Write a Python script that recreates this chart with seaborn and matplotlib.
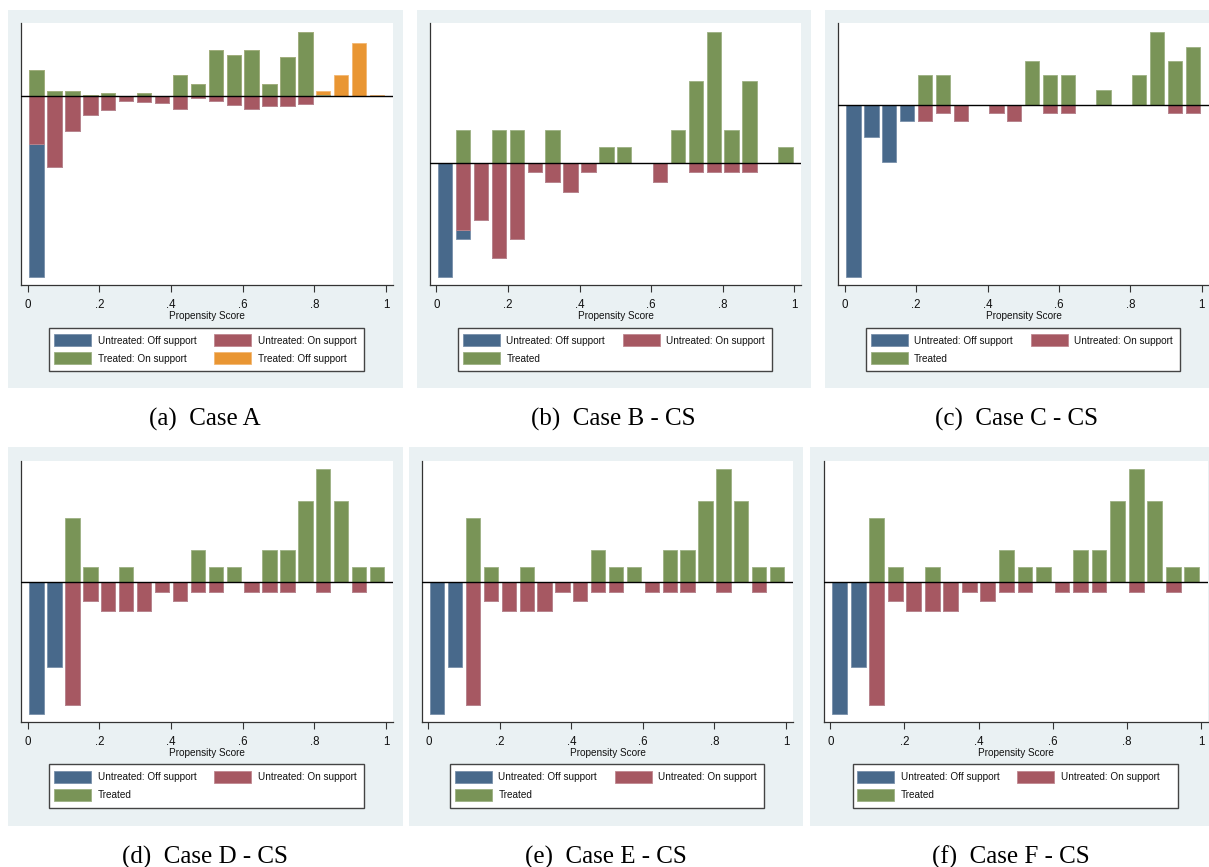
import matplotlib
matplotlib.use("Agg")
import matplotlib.pyplot as plt
from matplotlib.patches import Rectangle
import seaborn as sns

# ---------------------------------------------------------------- data
# Propensity-score bins (bin centres, width 0.05)
bin_centers = [0.025, 0.075, 0.125, 0.175, 0.225, 0.275, 0.325, 0.375, 0.425, 0.475,
               0.525, 0.575, 0.625, 0.675, 0.725, 0.775, 0.825, 0.875, 0.925, 0.975]
tick_values = [0, 0.2, 0.4, 0.6, 0.8, 1.0]
tick_labels = ["0", ".2", ".4", ".6", ".8", "1"]

# Case A
a_untreated_off = [39.8, 0, 0, 0, 0, 0, 0, 0, 0, 0, 0, 0, 0, 0, 0, 0, 0, 0, 0, 0]
a_untreated_on = [14.3, 21.3, 10.4, 5.7, 4.1, 1.5, 1.8, 2.0, 3.7, 0.6,
                  1.5, 2.5, 3.9, 3.0, 3.0, 2.2, 0, 0, 0, 0]
a_treated_on = [7.9, 1.7, 1.7, 0.5, 1.0, 0, 1.0, 0, 6.4, 3.8,
                14.0, 12.4, 14.0, 3.8, 11.9, 19.4, 0.5, 0, 0, 0]
a_treated_off = [0, 0, 0, 0, 0, 0, 0, 0, 0, 0, 0, 0, 0, 0, 0, 0, 1.2, 6.4, 16.1, 0.5]

# Case B - CS
b_untreated_off = [34.0, 2.7, 0, 0, 0, 0, 0, 0, 0, 0, 0, 0, 0, 0, 0, 0, 0, 0, 0, 0]
b_untreated_on = [0, 19.9, 17.0, 28.5, 22.6, 2.6, 5.7, 8.5, 2.6, 0,
                  0, 0, 5.7, 0, 2.6, 2.6, 2.6, 2.6, 0, 0]
b_treated = [0, 10.0, 0, 10.0, 10.0, 0, 10.0, 0, 0, 5.0,
             5.0, 0, 0, 10.0, 24.6, 39.5, 10.0, 24.6, 0, 5.0]

# Case C - CS
c_untreated_off = [51.5, 9.6, 17.1, 4.7, 0, 0, 0, 0, 0, 0, 0, 0, 0, 0, 0, 0, 0, 0, 0, 0]
c_untreated_on = [0, 0, 0, 0, 4.7, 2.4, 4.7, 0, 2.4, 4.7,
                  0, 2.4, 2.4, 0, 0, 0, 0, 0, 2.4, 2.4]
c_treated = [0, 0, 0, 0, 9.0, 9.0, 0, 0, 0, 0,
             13.1, 9.0, 9.0, 0, 4.5, 0, 9.0, 22.0, 13.1, 17.5]

# Case D - CS
d_untreated_off = [39.4, 25.3, 0, 0, 0, 0, 0, 0, 0, 0, 0, 0, 0, 0, 0, 0, 0, 0, 0, 0]
d_untreated_on = [0, 0, 36.7, 5.7, 8.5, 8.5, 8.5, 2.9, 5.7, 2.9,
                  2.9, 0, 2.9, 2.9, 2.9, 0, 2.9, 0, 2.9, 0]
d_treated = [0, 0, 19.4, 4.7, 0, 4.7, 0, 0, 0, 9.7,
             4.7, 4.7, 0, 9.7, 9.7, 24.3, 34.0, 24.3, 4.7, 4.7]

# Case E - CS
e_untreated_off = [39.4, 25.3, 0, 0, 0, 0, 0, 0, 0, 0, 0, 0, 0, 0, 0, 0, 0, 0, 0, 0]
e_untreated_on = [0, 0, 36.7, 5.7, 8.5, 8.5, 8.5, 2.9, 5.7, 2.9,
                  2.9, 0, 2.9, 2.9, 2.9, 0, 2.9, 0, 2.9, 0]
e_treated = [0, 0, 19.4, 4.7, 0, 4.7, 0, 0, 0, 9.7,
             4.7, 4.7, 0, 9.7, 9.7, 24.3, 34.0, 24.3, 4.7, 4.7]

# Case F - CS
f_untreated_off = [39.4, 25.3, 0, 0, 0, 0, 0, 0, 0, 0, 0, 0, 0, 0, 0, 0, 0, 0, 0, 0]
f_untreated_on = [0, 0, 36.7, 5.7, 8.5, 8.5, 8.5, 2.9, 5.7, 2.9,
                  2.9, 0, 2.9, 2.9, 2.9, 0, 2.9, 0, 2.9, 0]
f_treated = [0, 0, 19.4, 4.7, 0, 4.7, 0, 0, 0, 9.7,
             4.7, 4.7, 0, 9.7, 9.7, 24.3, 34.0, 24.3, 4.7, 4.7]

legend_four = ["Untreated: Off support", "Untreated: On support",
               "Treated: On support", "Treated: Off support"]
legend_three = ["Untreated: Off support", "Untreated: On support", "Treated"]

captions = ["(a)  Case A", "(b)  Case B - CS", "(c)  Case C - CS",
            "(d)  Case D - CS", "(e)  Case E - CS", "(f)  Case F - CS"]

# ---------------------------------------------------------------- style
BLUE, RED, GREEN, ORANGE = "#48698B", "#A65862", "#799457", "#E99633"
EDGE = {BLUE: "#7890AA", RED: "#C08890", GREEN: "#9DB083", ORANGE: "#F2B874"}
PANEL_BG = "#EAF1F3"
AXIS_COL = "#333333"

sns.set_style("ticks")
plt.rcParams["font.family"] = ["Liberation Sans Narrow", "Liberation Sans", "DejaVu Sans"]
SERIF = ["Liberation Serif", "DejaVu Serif"]

W, H = 1209, 867
fig = plt.figure(figsize=(W / 100, H / 100), dpi=100)
fig.patch.set_facecolor("white")


def fx(px):
    return px / W


def fy(py):
    return 1 - py / H


def fig_rect(x0, y0, x1, y1, **kw):
    fig.add_artist(Rectangle((fx(x0), fy(y1)), (x1 - x0) / W, (y1 - y0) / H,
                             transform=fig.transFigure, **kw))


def bars(ax, heights, color):
    sns.barplot(x=bin_centers, y=heights, native_scale=True, width=0.8, orient="x",
                color=color, saturation=1, errorbar=None, edgecolor=EDGE[color],
                linewidth=0.6, ax=ax)


def draw_legend(box, labels, colors):
    x0, y0, x1, y1 = box
    fig_rect(x0, y0, x1, y1, facecolor="white", edgecolor="#444444", linewidth=1.0, zorder=2)
    col_off = [4.7, 164.7]
    row_off = [6.3, 24.7]
    for i, (lab, col) in enumerate(zip(labels, colors)):
        r, c = divmod(i, 2)
        sx = x0 + col_off[c]
        sy = y0 + row_off[r]
        fig_rect(sx, sy, sx + 37, sy + 12, facecolor=col, edgecolor=EDGE[col],
                 linewidth=0.6, zorder=3)
        fig.text(fx(sx + 43.5), fy(sy + 6.5), lab, fontsize=7.2, ha="left",
                 va="center", color="#111111", zorder=4)


def draw_panel(spec):
    bx0, by0, bx1, by1 = spec["bg"]
    fig_rect(bx0, by0, bx1, by1, facecolor=PANEL_BG, edgecolor="none", zorder=0)

    x_zero, span, top, bottom = spec["axes"]
    xlim = (-0.018, 1.02)
    left = x_zero + xlim[0] * span
    ax = fig.add_axes([fx(left), fy(bottom), (xlim[1] - xlim[0]) * span / W, (bottom - top) / H])
    ax.set_facecolor("white")

    off_u, on_u, on_t, off_t = spec["data"]
    below = [-(a + b) for a, b in zip(off_u, on_u)]
    bars(ax, below, BLUE)
    bars(ax, [-v for v in on_u], RED)
    if off_t is not None:
        above = [a + b for a, b in zip(on_t, off_t)]
        bars(ax, above, ORANGE)
    else:
        above = list(on_t)
    bars(ax, list(on_t), GREEN)

    hi, lo = max(above), min(below)
    pad = 0.034 * (hi - lo)
    ax.set_ylim(lo - pad, hi + pad)
    ax.set_xlim(*xlim)
    ax.axhline(0, color="black", linewidth=1.0, zorder=6)

    ax.set_xticks(tick_values)
    ax.set_xticklabels(tick_labels)
    ax.set_yticks([])
    ax.tick_params(axis="x", length=5, width=0.8, color=AXIS_COL, pad=5,
                   labelsize=8.3, labelcolor="#111111")
    for s in ("top", "right"):
        ax.spines[s].set_visible(False)
    for s in ("left", "bottom"):
        ax.spines[s].set_color(AXIS_COL)
        ax.spines[s].set_linewidth(0.9)
    ax.set_xlabel("Propensity Score", fontsize=7.2, labelpad=0, color="#111111")
    ax.set_ylabel("")

    if off_t is not None:
        labels, colors = legend_four, [BLUE, RED, GREEN, ORANGE]
    else:
        labels, colors = legend_three, [BLUE, RED, GREEN]
    draw_legend(spec["legend"], labels, colors)

    cx, base = spec["caption"]
    fig.text(fx(cx), fy(base), spec["title"], family=SERIF, fontsize=18,
             ha="center", va="baseline", color="black")


panels = [
    dict(data=(a_untreated_off, a_untreated_on, a_treated_on, a_treated_off),
         bg=(8, 10, 403, 388), axes=(27.7, 358.3, 23.3, 285.0),
         legend=(49.3, 327.7, 364.0, 370.7), caption=(205, 425.5), title=captions[0]),
    dict(data=(b_untreated_off, b_untreated_on, b_treated, None),
         bg=(417, 10, 811, 388), axes=(436.3, 358.0, 23.3, 285.0),
         legend=(458.3, 327.7, 771.7, 370.7), caption=(613, 425.5), title=captions[1]),
    dict(data=(c_untreated_off, c_untreated_on, c_treated, None),
         bg=(825, 10, 1209, 388), axes=(844.7, 357.0, 23.3, 285.0),
         legend=(866.0, 327.7, 1180.0, 370.7), caption=(1017, 425.5), title=captions[2]),
    dict(data=(d_untreated_off, d_untreated_on, d_treated, None),
         bg=(8, 447, 403, 826), axes=(27.7, 358.3, 460.5, 722.3),
         legend=(49.3, 764.3, 364.0, 807.7), caption=(205, 863.5), title=captions[3]),
    dict(data=(e_untreated_off, e_untreated_on, e_treated, None),
         bg=(409, 447, 803, 826), axes=(428.3, 357.7, 460.5, 722.3),
         legend=(450.3, 764.3, 764.0, 807.7), caption=(606, 863.5), title=captions[4]),
    dict(data=(f_untreated_off, f_untreated_on, f_treated, None),
         bg=(810, 447, 1209, 826), axes=(830.3, 370.7, 460.5, 722.3),
         legend=(852.7, 764.3, 1178.3, 807.7), caption=(1011, 863.5), title=captions[5]),
]

for spec in panels:
    draw_panel(spec)

fig.savefig("out.png", dpi=100, facecolor="white")
